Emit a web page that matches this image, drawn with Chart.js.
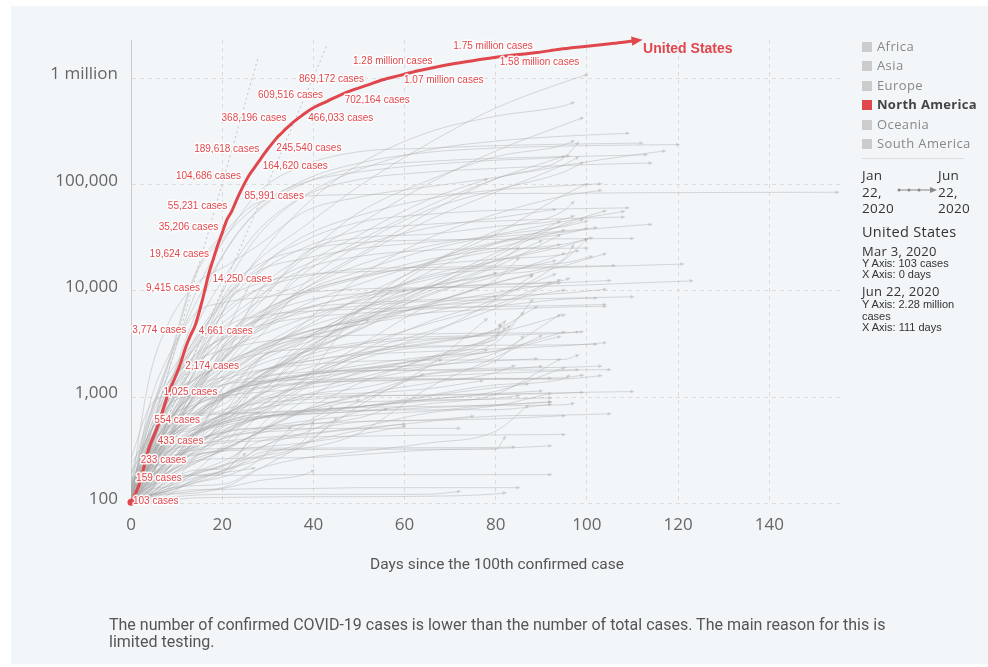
<!DOCTYPE html>
<html>
<head>
<meta charset="utf-8">
<script src="https://cdn.jsdelivr.net/npm/chart.js@4.4.1/dist/chart.umd.min.js"></script>
<style>
  body { margin: 0; width: 988px; height: 667px; background: #fff; position: relative; overflow: hidden; font-family: 'Open Sans', sans-serif; }
  #panel { position: absolute; left: 11px; top: 6px; right: 0; bottom: 3px; background: #f2f6f9; }
  #chart { position: absolute; left: 0; top: 0; }
  #xtitle { position: absolute; left: 0; width: 994px; top: 555px; text-align: center; font: 15.5px Roboto, sans-serif; color: #555; }
  #note { position: absolute; left: 109px; top: 616px; width: 778px; font: 16px/17px Roboto, sans-serif; color: #555; }
  #legend { position: absolute; left: 862px; top: 36.5px; }
  .item { height: 19.6px; line-height: 19.6px; font-size: 13px; letter-spacing: 0.4px; color: #888; white-space: nowrap; }
  .item span { display: inline-block; width: 10px; height: 10px; background: #ccc; margin-right: 5px; vertical-align: -1px; }
  .item.on { color: #444; font-weight: bold; letter-spacing: 0.3px; }
  .item.on span { background: #e0474c; }
  #sep { position: absolute; left: 862px; top: 158px; width: 102px; height: 1px; background: #ddd; }
  .date3 { position: absolute; top: 167px; font-size: 13.5px; line-height: 16.5px; letter-spacing: 0.3px; color: #333; }
  #trail { position: absolute; left: 897px; top: 185px; }
  .txt { position: absolute; left: 862px; color: #333; white-space: nowrap; letter-spacing: 0.3px; }
  .small { position: absolute; left: 862px; width: 108px; font: 11px/11.6px 'Liberation Sans', Arial, sans-serif; color: #333; }
</style>
</head>
<body>
<div id="panel"></div>
<canvas id="chart" width="988" height="667"></canvas>
<div id="legend"></div>
<div id="sep"></div>
<div class="date3" style="left:862px">Jan<br>22,<br>2020</div>
<svg id="trail" width="42" height="10">
  <line x1="1" y1="5" x2="35" y2="5" stroke="#888" stroke-width="1"/>
  <circle cx="2" cy="5" r="1.5" fill="#888"/>
  <circle cx="12" cy="5" r="1.5" fill="#888"/>
  <circle cx="22" cy="5" r="1.5" fill="#888"/>
  <polygon points="33,2 40,5 33,8" fill="#888"/>
</svg>
<div class="date3" style="left:938px">Jun<br>22,<br>2020</div>
<div class="txt" style="top:222px; font-size:14.5px">United States</div>
<div class="txt" style="top:242px; font-size:13px">Mar 3, 2020</div>
<div class="small" style="top:257.5px">Y Axis: 103 cases<br>X Axis: 0 days</div>
<div class="txt" style="top:282px; font-size:13px">Jun 22, 2020</div>
<div class="small" style="top:299px">Y Axis: 2.28 million cases<br>X Axis: 111 days</div>
<div id="xtitle">Days since the 100th confirmed case</div>
<div id="note">The number of confirmed COVID-19 cases is lower than the number of total cases. The main reason for this is limited testing.</div>
<script>
const continents = ['Africa', 'Asia', 'Europe', 'North America', 'Oceania', 'South America'];
const activeContinent = 'North America';

const xTicks = [0, 20, 40, 60, 80, 100, 120, 140];
const yTickValues = [100, 1000, 10000, 100000, 1000000];
const yTickLabels = ['100', '1,000', '10,000', '100,000', '1 million'];

// United States, days since 100th case
const usDays = [0, 1, 2, 3, 4, 5, 6, 7, 8, 9, 10, 11, 12, 13, 14, 15, 16, 17, 18, 19, 20, 21, 22, 23, 24, 25, 26, 27, 28, 29,
  30, 31, 32, 33, 34, 35, 36, 37, 38, 40, 43, 46, 49, 52, 55, 59, 63, 67, 71, 75, 80, 85, 89, 94, 99, 104, 108, 111];
const usCases = [103, 125, 159, 233, 338, 433, 554, 754, 1025, 1312, 1663, 2174, 2951, 3774, 4661, 6427, 9415, 14250, 19624, 26747,
  35206, 46442, 55231, 69194, 85991, 104686, 124665, 143025, 164620, 189618, 216721, 245540, 277205, 304826, 336673, 368196,
  400335, 432132, 466033, 529951, 609516, 702164, 787752, 869172, 965785, 1069424, 1180375, 1283929, 1380000, 1470000,
  1580000, 1680000, 1750000, 1880000, 1990000, 2100000, 2190000, 2280000];

const usLabelDays = [0, 2, 3, 5, 6, 8, 11, 13, 14, 16, 17, 18, 20, 22, 24, 25, 28, 29, 31, 35, 38, 43, 46, 52, 59, 67, 80, 89];
const usLabelSides = ['S', 'A', 'A', 'R', 'A', 'A', 'R', 'L', 'R', 'L', 'R', 'L', 'L', 'L', 'R', 'L', 'R', 'L', 'R', 'L', 'R', 'L', 'R', 'L', 'R', 'L', 'R', 'L'];

// other countries, values read at these days (last value = last day)
const sampleDays = [0, 4, 8, 14, 21, 28, 38, 50, 65, 80, 95, 110, 130];
const grayNames = ['China', 'South Korea', 'Japan', 'Italy', 'Iran', 'Singapore', 'France', 'Germany', 'Spain', 'Switzerland',
  'Norway', 'United Kingdom', 'Belgium', 'Netherlands', 'Sweden', 'Austria', 'Denmark', 'Greece', 'Australia', 'Egypt',
  'Canada', 'Qatar', 'Iceland', 'Czechia', 'Finland', 'Slovenia', 'Malaysia', 'Portugal', 'Bahrain', 'Israel',
  'Ireland', 'Brazil', 'Poland', 'Philippines', 'Indonesia', 'India', 'Saudi Arabia', 'South Africa', 'Pakistan', 'Chile',
  'Romania', 'Luxembourg', 'Russia', 'Peru', 'Colombia', 'Ecuador', 'Turkey', 'Mexico', 'Argentina', 'Thailand',
  'Hong Kong', 'Taiwan', 'Vietnam', 'New Zealand', 'Kuwait', 'United Arab Emirates', 'Ukraine', 'Belarus', 'Bangladesh', 'Morocco',
  'Algeria', 'Tunisia', 'Costa Rica', 'Panama', 'Dominican Republic', 'Uruguay', 'Sri Lanka', 'Armenia', 'Kazakhstan', 'Serbia',
  'Croatia', 'Estonia', 'Lebanon', 'Cyprus', 'Malta', 'Jordan', 'Georgia', 'Ghana', 'Nigeria', 'Kenya',
  'Cambodia', 'Brunei', 'Mauritius', 'Trinidad and Tobago', 'Montenegro', 'Jamaica', 'Andorra', 'San Marino', 'Albania', 'Faeroe Islands',
  'Burkina Faso', 'Senegal', 'Cameroon', 'Iraq', 'Madagascar', 'International', 'Yemen', 'Malawi', 'Syria', 'Mozambique',
  'Eswatini', 'Libya', 'Mongolia', 'Suriname', 'Benin', 'Togo', 'Haiti', 'Guinea', "Cote d'Ivoire", 'Democratic Republic of Congo',
  'Djibouti', 'Somalia', 'Sudan', 'Ethiopia', 'Gabon', 'Zambia', 'Niger', 'Mali', 'Tanzania', 'Rwanda',
  'Uganda', 'Guatemala', 'Honduras', 'El Salvador', 'Bolivia', 'Paraguay', 'Venezuela', 'Cuba', 'Afghanistan', 'Uzbekistan',
  'Oman', 'Azerbaijan', 'Moldova', 'Bosnia and Herzegovina', 'North Macedonia', 'Bulgaria', 'Hungary', 'Slovakia', 'Lithuania', 'Latvia',
  'Nepal', 'Maldives', 'Kyrgyzstan'];
const grayEndDays = [155, 123, 121, 120, 117, 114, 114, 113, 112, 110,
  110, 109, 109, 108, 108, 106, 105, 104, 104, 104,
  103, 103, 105, 104, 104, 103, 102, 102, 104, 101,
  100, 100, 101, 100, 99, 99, 99, 100, 98, 98,
  98, 99, 97, 97, 97, 97, 96, 95, 94, 102,
  110, 95, 92, 92, 100, 100, 95, 93, 78, 95,
  94, 90, 94, 97, 94, 97, 90, 95, 93, 96,
  98, 103, 96, 92, 95, 92, 92, 88, 85, 82,
  72, 85, 84, 82, 82, 75, 92, 105, 95, 92,
  92, 95, 92, 100, 64, 28, 50, 44, 40, 45,
  40, 35, 27, 25, 60, 60, 52, 82, 88, 86,
  83, 78, 80, 78, 81, 77, 85, 84, 72, 87,
  56, 80, 88, 81, 85, 87, 90, 89, 90, 89,
  94, 94, 93, 94, 94, 95, 98, 99, 98, 99,
  60, 68, 86];
const grayCases = [
  [121, 571, 2000, 14380, 37250, 68500, 78000, 80800, 81000, 82700, 82900, 84000, 84500, 84900],
  [104, 833, 2337, 6088, 7869, 8652, 9661, 10450, 10738, 10874, 11206, 11852, 12438],
  [105, 170, 230, 461, 716, 1007, 2178, 7255, 13441, 15874, 16623, 17332, 17916],
  [155, 655, 2036, 7375, 24747, 59138, 110574, 159516, 201505, 221216, 231139, 236305, 238499],
  [139, 1501, 4747, 11364, 17361, 27017, 55743, 76389, 95646, 116635, 151466, 189876, 207525],
  [106, 117, 150, 200, 385, 802, 1481, 6588, 18205, 28794, 35836, 41216, 42313],
  [100, 285, 1126, 4469, 14459, 37575, 78167, 111821, 131287, 142411, 151753, 158641, 160093],
  [117, 482, 1176, 5813, 24873, 57298, 103228, 145184, 165664, 177212, 183410, 189822, 191449],
  [114, 400, 1639, 9191, 33089, 85195, 152446, 204178, 220325, 233037, 240660, 245938, 246272],
  [114, 337, 645, 2200, 9877, 17768, 24551, 28496, 30126, 30658, 30936, 31235],
  [113, 277, 621, 1256, 2385, 4445, 6244, 7205, 7996, 8309, 8547, 8815],
  [115, 373, 798, 2626, 11658, 33718, 78991, 138078, 211364, 257154, 286294, 304331],
  [109, 239, 559, 1243, 4269, 15348, 29647, 44293, 52596, 57342, 59226, 60550],
  [128, 382, 804, 1705, 7431, 14697, 25587, 36535, 42382, 45445, 47903, 49658],
  [137, 355, 814, 1121, 2840, 5568, 10483, 17567, 26322, 33843, 45133, 56043],
  [104, 361, 1016, 3244, 8271, 11781, 14226, 15148, 15833, 16557, 16979, 17323],
  [264, 801, 1046, 1460, 2577, 4681, 6876, 8851, 10591, 11633, 12001, 12561],
  [117, 228, 418, 695, 1061, 1735, 2170, 2506, 2691, 2853, 3049, 3256],
  [112, 249, 565, 1709, 4557, 5795, 6415, 6752, 6989, 7150, 7294, 7461],
  [109, 126, 256, 456, 710, 1560, 2673, 5042, 10431, 21210, 42980, 56809],
  [108, 252, 727, 2088, 8527, 16563, 32814, 51150, 73401, 89418, 98041, 101963],
  [238, 401, 460, 526, 781, 2210, 5008, 13409, 30972, 52907, 78416, 88403],
  [117, 225, 409, 648, 1020, 1486, 1720, 1789, 1801, 1804, 1806, 1817],
  [116, 298, 995, 2279, 3858, 5312, 6900, 7682, 8269, 8955, 9529, 10364],
  [155, 272, 450, 1025, 1882, 2905, 4129, 5176, 6228, 6692, 7073, 7167],
  [141, 275, 414, 730, 997, 1205, 1336, 1434, 1465, 1469, 1486, 1594],
  [129, 428, 1183, 2470, 3662, 4683, 5603, 6176, 6779, 7245, 8369, 8572],
  [112, 331, 1020, 3544, 9034, 15472, 20206, 25045, 28810, 32203, 36690, 39392],
  [110, 210, 241, 419, 643, 811, 1522, 3040, 7184, 11871, 17269, 22407],
  [126, 298, 883, 3035, 6857, 10408, 13654, 16101, 16659, 17169, 18355, 21082],
  [129, 557, 1329, 2910, 5364, 8928, 16040, 21176, 24112, 25062, 25201, 25383],
  [121, 621, 1546, 3417, 9056, 19638, 40581, 96559, 241080, 526447, 923189, 1083341],
  [103, 238, 536, 1389, 3383, 5575, 9287, 13105, 18016, 23786, 27560, 31620],
  [111, 202, 380, 1075, 3018, 4195, 6710, 9223, 12718, 18997, 26420, 30682],
  [117, 309, 579, 1285, 2491, 4241, 7418, 11587, 18496, 28233, 41431, 46845],
  [107, 236, 415, 979, 3374, 8356, 20471, 42533, 101139, 207615, 366946, 425282],
  [103, 274, 511, 1203, 2039, 3651, 11631, 27011, 57345, 89011, 132048, 161005],
  [116, 202, 402, 1187, 1585, 2173, 3465, 6336, 17200, 34357, 80412, 101590],
  [187, 453, 887, 1597, 3157, 5374, 10513, 20941, 45898, 85264, 154760, 181088],
  [155, 434, 922, 2449, 4815, 7917, 11812, 22016, 53617, 113628, 179436, 246963],
  [139, 308, 762, 2109, 4057, 6300, 9710, 13512, 17387, 19907, 22165, 23938],
  [140, 484, 1333, 2178, 2843, 3292, 3657, 3828, 3945, 4012, 4050, 4133],
  [114, 253, 495, 1836, 7497, 21102, 62773, 155370, 308705, 441108, 553301, 592280],
  [117, 263, 395, 1065, 2561, 9784, 21648, 54817, 108769, 183198, 237156, 257447],
  [102, 196, 378, 798, 1780, 2776, 4561, 8613, 17687, 36635, 57046, 68652],
  [111, 426, 1049, 1966, 3747, 7466, 22719, 31467, 34151, 40414, 47322, 50640],
  [191, 670, 1872, 13531, 34109, 65111, 104912, 131744, 154500, 170132, 184031, 187685],
  [118, 316, 717, 1510, 3181, 5847, 14677, 29616, 62527, 113619, 185122],
  [128, 266, 502, 966, 1554, 2571, 3780, 5776, 11353, 22794, 44931],
  [114, 212, 599, 1388, 2067, 2551, 2854, 2969, 3034, 3081, 3112, 3148],
  [105, 115, 131, 157, 208, 518, 990, 1036, 1047, 1066, 1106, 1131],
  [100, 153, 252, 322, 376, 388, 422, 429, 440, 442, 446],
  [113, 148, 194, 251, 265, 268, 270, 288, 318, 329, 349],
  [102, 283, 589, 1039, 1330, 1409, 1470, 1492, 1499, 1504, 1506],
  [104, 142, 189, 317, 665, 1355, 3075, 6567, 14850, 27762, 34432, 38678],
  [113, 153, 405, 814, 2076, 4521, 9813, 15192, 24190, 33170, 40507, 45303],
  [113, 310, 804, 1892, 3764, 6125, 9866, 13691, 19706, 25411, 37241],
  [152, 351, 1066, 2919, 6264, 10463, 17489, 26772, 38956, 48630, 58505],
  [123, 218, 424, 1231, 2456, 5416, 16660, 33610, 71675, 112306],
  [115, 225, 402, 1021, 1661, 2685, 4065, 5219, 7133, 8030, 10172],
  [102, 264, 511, 1320, 2160, 2811, 3649, 4838, 7377, 9626, 11920],
  [114, 227, 394, 574, 780, 880, 949, 1022, 1046, 1084, 1146],
  [113, 177, 330, 454, 595, 660, 697, 739, 866, 1068, 2277],
  [109, 245, 558, 1181, 2752, 3751, 5538, 8070, 10926, 14095, 20059, 26752],
  [112, 312, 901, 1488, 2111, 2967, 5044, 8235, 13989, 19195, 27370],
  [110, 189, 304, 400, 473, 517, 596, 679, 738, 834, 848, 874],
  [102, 122, 159, 190, 238, 460, 755, 1027, 1633, 1801, 1950],
  [115, 235, 482, 822, 1111, 1473, 2619, 4283, 9282, 13675, 22488],
  [111, 284, 531, 812, 1609, 2601, 4422, 6440, 10858, 14496, 19285],
  [103, 303, 785, 1476, 2447, 5318, 8042, 9464, 10699, 11412, 12616, 13092],
  [105, 254, 586, 1079, 1495, 1791, 2016, 2176, 2232, 2246, 2269, 2483],
  [115, 225, 404, 715, 1108, 1400, 1643, 1760, 1800, 1880, 1910, 1965],
  [110, 248, 412, 494, 575, 658, 704, 809, 1037, 1306, 1495, 1587],
  [116, 179, 320, 526, 695, 790, 883, 903, 939, 960, 985],
  [107, 149, 227, 370, 431, 468, 496, 586, 609, 626, 670],
  [112, 246, 310, 358, 389, 413, 453, 522, 711, 831, 1086],
  [103, 165, 242, 370, 511, 635, 730, 800, 817, 847, 901],
  [132, 195, 408, 636, 1042, 1550, 2719, 5638, 7616, 11964, 14154],
  [111, 184, 288, 343, 627, 1095, 2388, 4399, 7526, 12801, 20244],
  [110, 158, 197, 262, 336, 465, 758, 1348, 2340, 3860, 4478],
  [107, 109, 114, 120, 122, 122, 122, 122, 122, 130],
  [102, 114, 126, 135, 136, 138, 138, 141, 141, 141, 141],
  [102, 169, 244, 318, 329, 332, 332, 334, 335, 337, 340],
  [103, 105, 107, 113, 114, 115, 116, 116, 117, 123, 126],
  [109, 201, 248, 291, 313, 320, 322, 324, 324, 324, 420],
  [105, 143, 196, 305, 422, 509, 556, 591, 610, 662],
  [113, 224, 334, 466, 601, 696, 738, 752, 761, 763, 855],
  [101, 126, 144, 187, 236, 279, 371, 488, 589, 665, 680, 698],
  [104, 174, 243, 333, 467, 634, 750, 814, 949, 1137, 1891],
  [115, 155, 181, 184, 184, 185, 187, 187, 187, 187, 187],
  [114, 207, 302, 443, 576, 635, 688, 736, 796, 847, 903],
  [105, 142, 190, 278, 350, 671, 1433, 2429, 3253, 4021, 5970],
  [113, 139, 509, 658, 1016, 1705, 2265, 3105, 4890, 7392, 12041],
  [101, 133, 208, 382, 772, 1279, 1602, 2431, 3877, 8168, 19551, 30868],
  [102, 121, 132, 193, 230, 326, 542, 908, 1640],
  [135, 454, 634, 705, 712, 712],
  [106, 130, 180, 249, 323, 472, 728, 941],
  [101, 119, 170, 237, 336, 455, 573, 803],
  [106, 121, 123, 125, 141, 164, 187, 204],
  [104, 119, 137, 162, 209, 254, 352, 631],
  [100, 106, 119, 172, 208, 273, 398, 586],
  [105, 118, 130, 156, 182, 256, 520],
  [118, 141, 179, 185, 197, 215],
  [102, 118, 130, 166, 215, 293],
  [102, 161, 246, 284, 319, 339, 372, 447, 532],
  [101, 116, 148, 196, 259, 381, 442, 508, 561],
  [101, 129, 209, 358, 589, 1320, 2640, 4547, 5324],
  [121, 144, 212, 404, 1351, 2009, 2658, 3275, 3706, 4117, 5174],
  [101, 168, 194, 444, 638, 952, 1275, 1667, 2376, 3262, 8194],
  [109, 134, 180, 241, 332, 471, 937, 1731, 2297, 3644, 6213],
  [135, 214, 591, 846, 1035, 1112, 1210, 1518, 2270, 3779, 4643],
  [116, 164, 237, 436, 601, 722, 1054, 1421, 1916, 2779],
  [107, 162, 275, 442, 1111, 2289, 3628, 4800, 6242, 8889],
  [105, 114, 122, 131, 145, 210, 365, 831, 1934, 5425],
  [108, 120, 172, 276, 504, 661, 1209, 2238, 2955, 3463, 4849],
  [106, 119, 138, 267, 441, 920, 1057, 1089, 1200, 1430],
  [144, 342, 529, 657, 696, 719, 755, 815, 920, 974, 1036],
  [105, 148, 216, 370, 490, 633, 758, 1059, 1351, 1704, 1978],
  [147, 254, 284, 299, 480, 509, 509, 509, 509, 509],
  [102, 118, 138, 147, 154, 212, 268, 308, 370, 480, 830],
  [101, 160, 253, 341, 415, 485, 555, 637, 774],
  [126, 180, 214, 473, 703, 1052, 2743, 5087, 8982, 14819],
  [110, 222, 298, 397, 472, 738, 1270, 2646, 5094, 8455, 13943],
  [117, 190, 218, 345, 555, 1037, 1640, 2517, 3433, 4329, 4808],
  [107, 157, 264, 493, 1053, 2266, 3577, 6660, 10991, 17842, 25493],
  [104, 129, 159, 206, 213, 333, 462, 737, 1013, 1230, 1330],
  [107, 135, 144, 175, 197, 298, 331, 459, 1211, 2377, 3789],
  [119, 212, 350, 669, 1087, 1337, 1611, 1840, 2005, 2200, 2305],
  [106, 170, 367, 665, 1092, 1531, 2894, 5339, 10582, 19551, 29640],
  [173, 227, 390, 624, 1302, 1758, 2149, 2612, 3164, 4331, 7112],
  [109, 192, 371, 813, 1410, 2348, 3224, 5186, 9820, 16882, 33536],
  [122, 298, 584, 926, 1340, 1548, 1854, 2693, 4122, 6860, 12729],
  [109, 231, 423, 1056, 1934, 2964, 4052, 5406, 7147, 9018, 14363],
  [106, 240, 413, 674, 1037, 1342, 1628, 1985, 2406, 2700, 3722],
  [114, 219, 354, 599, 1117, 1325, 1506, 1740, 1949, 2611, 5945],
  [127, 218, 331, 503, 713, 894, 1300, 1829, 2259, 2727, 4114],
  [103, 226, 343, 623, 895, 1579, 2443, 3150, 3535, 3816, 4008, 4114],
  [105, 186, 314, 450, 682, 1049, 1373, 1413, 1457, 1495, 1531, 1613],
  [143, 299, 491, 880, 1091, 1239, 1384, 1491, 1577, 1682, 1776, 1812],
  [111, 180, 305, 458, 548, 630, 727, 818, 957, 1057, 1088, 1111],
  [101, 134, 217, 375, 682, 1401, 3448, 6591, 10099],
  [129, 280, 455, 835, 1094, 1371, 1591, 1872, 2078, 2238],
  [107, 216, 298, 506, 631, 776, 1044, 1216, 1662, 2207, 3726]
];

// reference lines: doubling every 2 and every 3 days
const doublingEndDays = [28, 43];
const doublingEndCases = [1638400, 2064000];

const RED = '#e0474c';
const GRAY = 'rgba(170, 170, 170, 0.42)';

document.getElementById('legend').innerHTML = continents.map(c =>
  `<div class="item${c === activeContinent ? ' on' : ''}"><span></span>${c}</div>`).join('');

function caseLabel(v) {
  if (v >= 1e6) return (v / 1e6).toFixed(2) + ' million cases';
  return v.toLocaleString('en-US') + ' cases';
}

function drawArrow(ctx, x0, y0, x1, y1, size, color) {
  const a = Math.atan2(y1 - y0, x1 - x0);
  ctx.save();
  ctx.translate(x1, y1);
  ctx.rotate(a);
  ctx.beginPath();
  ctx.moveTo(size, 0);
  ctx.lineTo(-size, -size * 0.85);
  ctx.lineTo(-size, size * 0.85);
  ctx.closePath();
  ctx.fillStyle = color;
  ctx.fill();
  ctx.restore();
}

const grayDatasets = grayCases.map((row, i) => {
  const end = grayEndDays[i];
  const days = sampleDays.filter(d => d < end).concat(end);
  const n = Math.min(days.length, row.length);
  return {
    label: grayNames[i],
    data: days.slice(0, n).map((d, j) => ({ x: d, y: row[j] })),
    borderColor: GRAY,
    borderWidth: 1,
    pointRadius: 0,
    cubicInterpolationMode: 'monotone',
    arrow: 2.2
  };
});

const doublingDatasets = doublingEndDays.map((d, i) => ({
  label: 'doubling ' + (i + 2),
  data: [{ x: 0, y: 100 }, { x: d, y: doublingEndCases[i] }],
  borderColor: '#c2c2c2',
  borderWidth: 1,
  borderDash: [2, 3],
  pointRadius: 0
}));

const usDataset = {
  label: 'United States',
  data: usDays.map((d, i) => ({ x: d, y: usCases[i] })),
  borderColor: RED,
  borderWidth: 3,
  pointRadius: 0,
  borderJoinStyle: 'round',
  cubicInterpolationMode: 'monotone',
  order: -1,
  clip: false,
  arrow: 5.5
};

const placement = {
  L: { dx: -4, dy: -6, align: 'right' },
  R: { dx: 4, dy: 5, align: 'left' },
  A: { dx: -4, dy: -4, align: 'left' },
  S: { dx: 2, dy: -1, align: 'left' }
};

const lineMarks = {
  id: 'lineMarks',
  afterDatasetDraw(chart, args) {
    const ds = chart.data.datasets[args.index];
    if (!ds.arrow) return;
    const pts = args.meta.data;
    const a = pts[pts.length - 2], b = pts[pts.length - 1];
    drawArrow(chart.ctx, a.x, a.y, b.x, b.y, ds.arrow, ds.borderColor);
  },
  afterDatasetsDraw(chart) {
    const ctx = chart.ctx;
    const meta = chart.getDatasetMeta(0);
    const pts = meta.data;
    ctx.save();
    ctx.beginPath();
    ctx.arc(pts[0].x, pts[0].y, 3.5, 0, Math.PI * 2);
    ctx.fillStyle = RED;
    ctx.fill();
    ctx.font = '10px "Liberation Sans", Arial, sans-serif';
    ctx.textBaseline = 'middle';
    ctx.lineJoin = 'round';
    usLabelDays.forEach((day, k) => {
      const i = usDays.indexOf(day);
      const p = placement[usLabelSides[k]];
      const text = caseLabel(usCases[i]);
      ctx.textAlign = p.align;
      ctx.strokeStyle = 'rgba(255,255,255,0.9)';
      ctx.lineWidth = 3;
      ctx.strokeText(text, pts[i].x + p.dx, pts[i].y + p.dy);
      ctx.fillStyle = RED;
      ctx.fillText(text, pts[i].x + p.dx, pts[i].y + p.dy);
    });
    const last = pts[pts.length - 1];
    ctx.font = 'bold 14px "Liberation Sans", Arial, sans-serif';
    ctx.textAlign = 'left';
    ctx.fillStyle = RED;
    ctx.fillText('United States', last.x + 6, last.y + 9);
    ctx.restore();
  }
};

new Chart(document.getElementById('chart'), {
  type: 'line',
  data: { datasets: [usDataset, ...doublingDatasets, ...grayDatasets] },
  plugins: [lineMarks],
  options: {
    responsive: false,
    animation: false,
    events: [],
    layout: { padding: { top: 40, right: 148, bottom: 0, left: 0 } },
    plugins: { legend: { display: false }, tooltip: { enabled: false } },
    scales: {
      x: {
        type: 'linear',
        min: 0,
        max: 155.5,
        afterBuildTicks: s => { s.ticks = xTicks.map(v => ({ value: v })); },
        afterFit: s => { s.height = 163.5; },
        ticks: { color: '#666', font: { family: 'Open Sans', size: 17 }, padding: 11 },
        grid: { color: '#dcdcdc', drawTicks: false },
        border: { display: false, dash: [4, 4] }
      },
      y: {
        type: 'logarithmic',
        min: 100,
        max: 2300000,
        afterBuildTicks: s => { s.ticks = yTickValues.map(v => ({ value: v })); },
        afterFit: s => { s.width = 131; },
        ticks: {
          color: '#666',
          font: { family: 'Open Sans', size: 17 },
          padding: 13,
          labelOffset: -4,
          callback: v => yTickLabels[yTickValues.indexOf(v)] ?? ''
        },
        grid: { color: '#dcdcdc', drawTicks: false },
        border: { display: true, color: '#cccccc', dash: [4, 4] }
      }
    }
  }
});
</script>
</body>
</html>
